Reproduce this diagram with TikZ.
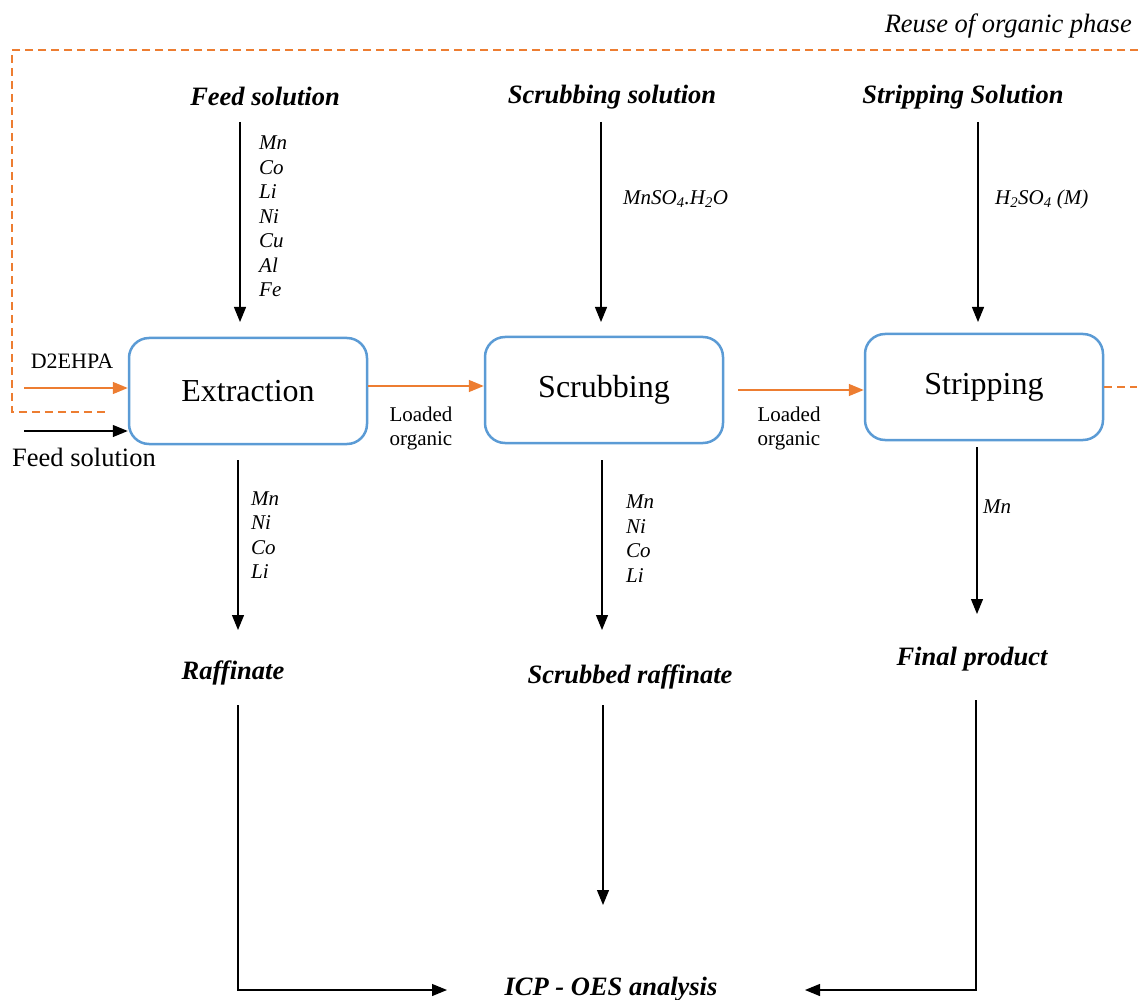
\documentclass[tikz,border=0pt]{standalone}
\usepackage{fontspec}
\setmainfont{Liberation Serif}
\usetikzlibrary{arrows.meta,calc}
\definecolor{orng}{HTML}{ED7D31}
\definecolor{blu}{HTML}{5B9BD5}
\begin{document}
\begin{tikzpicture}[x=1pt,y=-1pt,
 box/.style={draw=blu,line width=2.5pt,rounded corners=20pt,minimum width=238pt,minimum height=106pt,font=\fontsize{32}{36}\selectfont},
 ttl/.style={font=\fontsize{26.5}{30}\selectfont\bfseries\itshape,inner sep=0pt},
 elem/.style={font=\fontsize{21}{24.5}\selectfont\itshape,align=left,anchor=west,inner sep=0pt},
 arr/.style={-{Triangle[length=15pt,width=12pt]},line width=1.2pt},
 oarr/.style={-{Triangle[length=15pt,width=12pt]},draw=orng,fill=orng,line width=1.5pt},
 odash/.style={draw=orng,line width=2pt,dash pattern=on 8pt off 5pt},
 lbl/.style={font=\fontsize{21}{24}\selectfont,align=center,inner sep=0pt}
]
\useasboundingbox (0,0) rectangle (1138,1000);

% boxes
\node[box] (ext) at (248,391) {Extraction};
\node[box] (scr) at (604,390) {Scrubbing};
\node[box] (str) at (984,387) {Stripping};

% titles
\node[ttl] (feedT) at (265,96) {Feed solution};
\node[ttl] (scrT) at (612,97) {Scrubbing solution};
\node[ttl] (strT) at (963,97) {Stripping Solution};
\node[ttl] (raff) at (233,673) {Raffinate};
\node[ttl] (sraff) at (630,677) {Scrubbed raffinate};
\node[ttl] (fin) at (972,659) {Final product};
\node[ttl] (icp) at (611,989) {ICP - OES analysis};
\node[font=\fontsize{26.5}{30}\selectfont\itshape,inner sep=0pt,anchor=east] (reuse) at (1132,26) {Reuse of organic phase};

% element lists
\node[elem] (feedEl) at (259,216.5) {Mn\\Co\\Li\\Ni\\Cu\\Al\\Fe};
\node[elem] (raffEl) at (251,535) {Mn\\Ni\\Co\\Li};
\node[elem] (sraffEl) at (626,538.5) {Mn\\Ni\\Co\\Li};
\node[elem] (finEl) at (983,507) {Mn};
\node[elem] (mnso) at (623,199) {MnSO\textsubscript{4}.H\textsubscript{2}O};
\node[elem] (hso) at (995,199) {H\textsubscript{2}SO\textsubscript{4} (M)};

% side labels
\node[lbl] (lo1) at (421,428) {Loaded\\organic};
\node[lbl] (lo2) at (789,428) {Loaded\\organic};
\node[font=\fontsize{22}{24}\selectfont,inner sep=0pt] (d2) at (72,361) {D2EHPA};
\node[font=\fontsize{26.5}{28}\selectfont,inner sep=0pt,anchor=west] (fsol) at (12,457) {Feed solution};

% coordinates
\coordinate (fa) at (240,122);
\coordinate (sa) at (601,122);
\coordinate (ta) at (978,122);
\coordinate (eb) at (238,460);
\coordinate (sb) at (602,460);
\coordinate (tb) at (977,447);
\coordinate (rc) at (238,705);
\coordinate (sc) at (603,705);
\coordinate (fc) at (976,700);
\coordinate (icpL) at (447,990);
\coordinate (icpR) at (805,990);
\coordinate (d2s) at (24,388);
\coordinate (fss) at (24,431);
\coordinate (rtop) at (1138,50);
\coordinate (rend) at (105,412);

% vertical input arrows
\draw[arr] (fa) -- (240,322);
\draw[arr] (sa) -- (601,322);
\draw[arr] (ta) -- (978,322);
% outputs
\draw[arr] (eb) -- (238,630);
\draw[arr] (sb) -- (602,630);
\draw[arr] (tb) -- (977,614);
\draw[arr] (rc) |- (icpL);
\draw[arr] (sc) -- (603,905);
\draw[arr] (fc) |- (icpR);

% orange flows
\draw[oarr] (d2s) -- (d2s -| ext.west);
\draw[arr] (fss) -- (fss -| ext.west);
\draw[oarr] ([yshift=5pt]ext.east) -- ([yshift=5pt]ext.east -| scr.west);
\draw[oarr,shorten <=14pt] (scr.east) -- (scr.east -| str.west);
\draw[odash] (str.east) -- ++(33,0);
\draw[odash] (rtop) -- (12,50) -- (12,412) -- (rend);
\end{tikzpicture}
\end{document}
